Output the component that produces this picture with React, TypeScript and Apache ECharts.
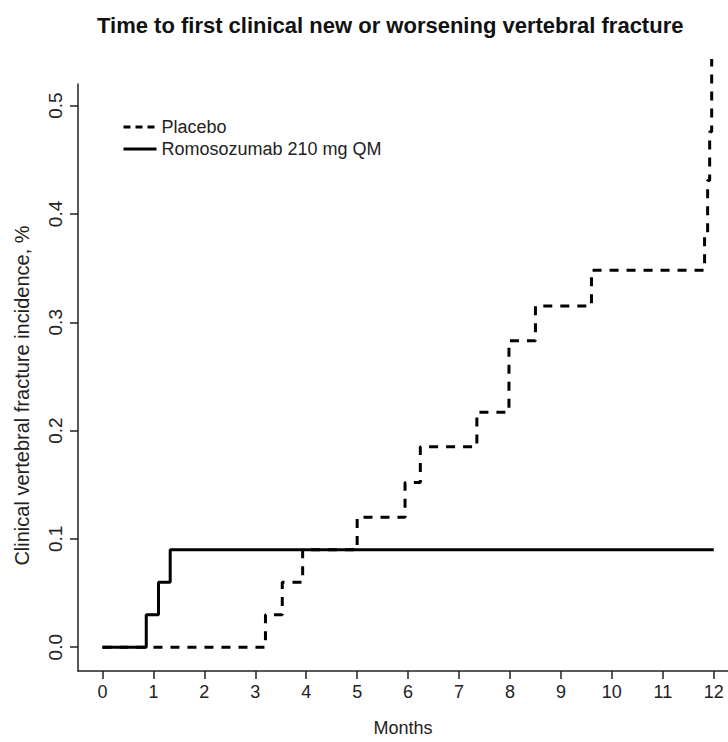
import React, { useEffect, useRef } from "react";
import * as echarts from "echarts";

const chartTitle = "Time to first clinical new or worsening vertebral fracture";
const xAxisName = "Months";
const yAxisName = "Clinical vertebral fracture incidence, %";
const seriesNames = ["Placebo", "Romosozumab 210 mg QM"];

const monthTicks = [0, 1, 2, 3, 4, 5, 6, 7, 8, 9, 10, 11, 12];
const incidenceTicks = [0, 0.1, 0.2, 0.3, 0.4, 0.5];

const placeboMonths = [0, 3.2, 3.53, 3.93, 5.0, 5.94, 6.24, 7.35, 7.98, 8.5, 9.6, 11.82, 11.88, 11.92, 11.96];
const placeboIncidence = [0, 0.03, 0.06, 0.09, 0.12, 0.152, 0.185, 0.217, 0.283, 0.315, 0.348, 0.381, 0.431, 0.476, 0.543];

const romoMonths = [0, 0.86, 1.1, 1.33, 12];
const romoIncidence = [0, 0.03, 0.06, 0.09, 0.09];

const FONT = "'Liberation Sans', Arial, Helvetica, sans-serif";

export default function App() {
  const ref = useRef<HTMLDivElement>(null);
  useEffect(() => {
    document.body.style.margin = "0";
    if (!ref.current) return;
    const chart = echarts.init(ref.current, undefined, { renderer: "svg" });
    const axisColor = "#222";
    chart.setOption({
      animation: false,
      backgroundColor: "#ffffff",
      textStyle: { fontFamily: FONT, color: "#111" },
      title: {
        text: chartTitle,
        left: 92,
        top: 9,
        textStyle: { fontFamily: FONT, fontSize: 22, fontWeight: "bold", color: "#111" },
      },
      legend: {
        orient: "vertical",
        left: 117,
        top: 113,
        itemWidth: 33,
        itemHeight: 14,
        itemGap: 4,
        data: [
          { name: seriesNames[0], lineStyle: { type: [7, 5], width: 3 } },
          { name: seriesNames[1], lineStyle: { width: 3 } },
        ],
        itemStyle: { opacity: 0 },
        textStyle: { fontFamily: FONT, fontSize: 18, color: "#222" },
      },
      grid: { left: 78, right: 0, top: 84, bottom: 66, containLabel: false },
      xAxis: {
        type: "value",
        min: -0.48,
        max: 12.28,
        name: xAxisName,
        nameLocation: "middle",
        nameGap: 57,
        nameTextStyle: { fontFamily: FONT, fontSize: 18, color: "#222", verticalAlign: "middle" },
        axisLine: { show: true, onZero: false, lineStyle: { color: axisColor, width: 1.5 } },
        axisTick: { show: true, customValues: monthTicks, length: 8, lineStyle: { color: axisColor, width: 1.5 } },
        axisLabel: { customValues: monthTicks, fontSize: 18, color: "#222", margin: 12, fontFamily: FONT },
        splitLine: { show: false },
      },
      yAxis: {
        type: "value",
        min: -0.022,
        max: 0.52,
        name: yAxisName,
        nameLocation: "middle",
        nameGap: 56,
        nameRotate: 90,
        nameTextStyle: {
          fontFamily: FONT,
          fontSize: 20,
          color: "#222",
          verticalAlign: "middle",
          padding: [0, 36, 0, 0],
        },
        axisLine: { show: true, onZero: false, lineStyle: { color: axisColor, width: 1.5 } },
        axisTick: { show: true, customValues: incidenceTicks, length: 8, lineStyle: { color: axisColor, width: 1.5 } },
        axisLabel: {
          customValues: incidenceTicks,
          rotate: 90,
          fontSize: 19,
          color: "#222",
          margin: 13,
          fontFamily: FONT,
          formatter: (v: number) => v.toFixed(1),
        },
        splitLine: { show: false },
      },
      series: [
        {
          name: seriesNames[0],
          type: "line",
          step: "end",
          symbol: "none",
          clip: false,
          data: placeboMonths.map((m, i) => [m, placeboIncidence[i]]),
          lineStyle: { color: "#000", width: 3, type: [9, 8] },
          itemStyle: { color: "#000" },
          z: 3,
        },
        {
          name: seriesNames[1],
          type: "line",
          step: "end",
          symbol: "none",
          clip: false,
          data: romoMonths.map((m, i) => [m, romoIncidence[i]]),
          lineStyle: { color: "#000", width: 3, type: "solid" },
          itemStyle: { color: "#000" },
          z: 2,
        },
      ],
    });
    return () => chart.dispose();
  }, []);
  return <div ref={ref} style={{ width: 728, height: 742 }} />;
}
